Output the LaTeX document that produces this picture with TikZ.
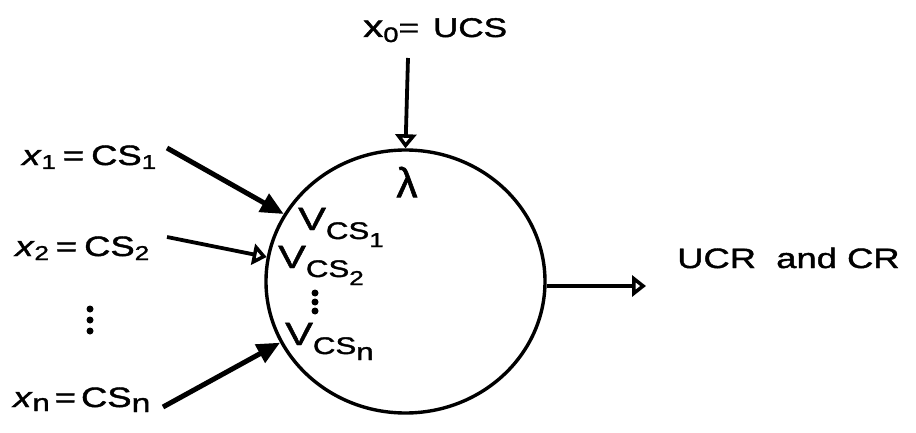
\documentclass[tikz,border=0pt]{standalone}
\usepackage{fontspec}
\setmainfont{Liberation Sans}[FakeStretch=1.3,FakeBold=1.5]
\newfontfamily\plainfont{Liberation Sans}[FakeBold=1.5]
\usetikzlibrary{arrows.meta,shapes.geometric}
\newcommand\fs[1]{\fontsize{#1}{#1}\selectfont}
\newcommand\lowered[3]{\raisebox{-#1}{\fs{#2}#3}}
\tikzset{
  lab/.style={inner sep=0pt, anchor=base west},
  ring/.style={draw, ellipse, line width=3.4pt, inner sep=0pt},
  fullarrow/.style={line width=5pt, -{Triangle[length=23pt,width=20pt]}},
  openarrow/.style={line width=3.8pt, -{Triangle[open,length=14pt,width=21pt,fill=white]}},
  dot/.style={circle, fill, inner sep=0pt, minimum size=7pt},
}
\begin{document}
\begin{tikzpicture}[x=1pt,y=-1pt]
\useasboundingbox (0,0) rectangle (916,433);
\node[ring, minimum width=279pt, minimum height=263pt] (c) at (405.5,281.5) {};
% labels
\node[lab] (x0) at (363,37) {\fs{31}x\lowered{5pt}{21}{0}\fs{27}=\hspace{14pt}UCS};
\node[lab] (l1) at (22,165) {\fs{28}\textit{x}\lowered{4pt}{20}{1}\hspace{7pt}=\hspace{7pt}CS\lowered{4pt}{20}{1}};
\node[lab] (l2) at (15,256) {\fs{28}\textit{x}\lowered{4pt}{20}{2}\hspace{7pt}=\hspace{7pt}CS\lowered{4pt}{20}{2}};
\node[lab] (ln) at (13,407) {\fs{28}\textit{x}\lowered{4pt}{24}{n}\hspace{5pt}=\hspace{5pt}CS\lowered{5pt}{26}{n}};
\node[lab] (out) at (677,268) {\fs{28}UCR\ \ and CR};
\node[inner sep=0pt] (lam) at (407,182) {\plainfont\fs{42}λ};
\node[lab] (v1) at (298,230) {\fs{32}V\lowered{9pt}{24}{CS\lowered{8pt}{20}{1}}};
\node[lab] (v2) at (278,268) {\fs{32}V\lowered{9pt}{24}{CS\lowered{8pt}{20}{2}}};
\node[lab] (vn) at (285,345) {\fs{32}V\lowered{9pt}{24}{CS\lowered{6pt}{24}{n}}};
% dots
\node[dot] (d1) at (90,309) {};
\node[dot] (d2) at (90,320) {};
\node[dot] (d3) at (90,331) {};
\node[dot] (e1) at (315,293) {};
\node[dot] (e2) at (315,302) {};
\node[dot] (e3) at (315,311) {};
% arrow starts
\coordinate (s0) at (408,58);
\coordinate (s1) at (167,148);
\coordinate (s2) at (167,237);
\coordinate (sn) at (163,407);
\coordinate (t) at (646,286);
% arrows
\draw[openarrow] (s0) -- (c.north);
\draw[fullarrow] (s1) -- (c.151);
\draw[openarrow] (s2) -- (c.170);
\draw[fullarrow] (sn) -- (c.206);
\draw[openarrow] (c.east |- t) -- (t);
\end{tikzpicture}
\end{document}
